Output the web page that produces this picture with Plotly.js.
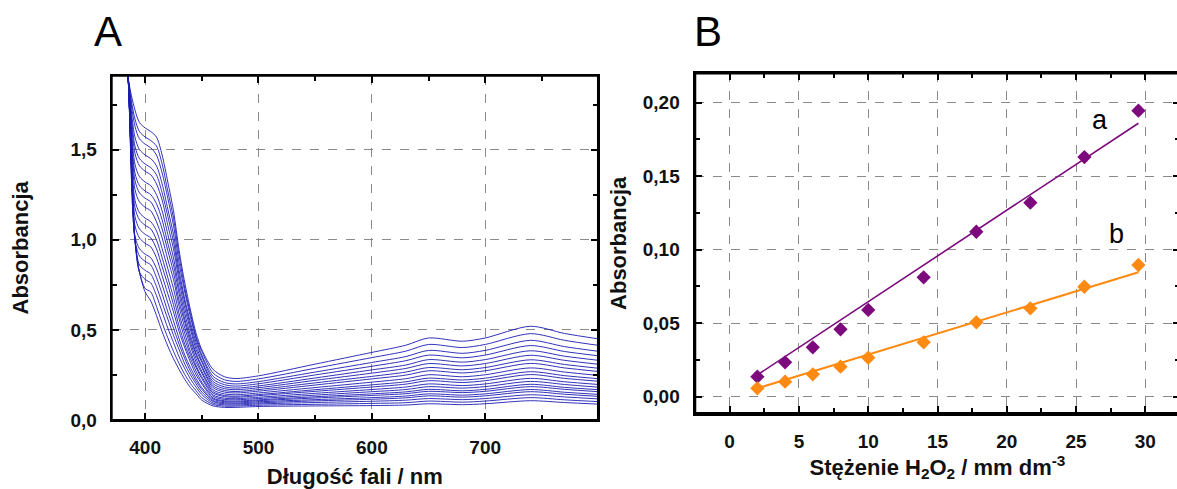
<!DOCTYPE html>
<html>
<head>
<meta charset="utf-8">
<script src="https://cdn.plot.ly/plotly-3.0.1.min.js"></script>
<style>
  html, body { margin: 0; padding: 0; background: #ffffff; overflow: hidden; }
  #chart { width: 1182px; height: 489px; }
</style>
</head>
<body>
<div id="chart"></div>
<script>
// ---------- Panel A: absorption spectra ----------
const wavelength = [378, 385, 391, 395, 400, 405, 410, 415, 420, 425, 430, 435, 440, 445, 450, 460, 470, 480, 500, 550, 600, 630, 650, 680, 700, 740, 770, 800];

const spectrum01 = [2.6, 1.9, 1.72, 1.65, 1.62, 1.60, 1.57, 1.47, 1.32, 1.16, 0.94, 0.76, 0.61, 0.48, 0.39, 0.28, 0.24, 0.23, 0.245, 0.31, 0.375, 0.415, 0.455, 0.437, 0.455, 0.52, 0.48, 0.45];
const spectrum02 = [2.6, 1.9, 1.67, 1.60, 1.57, 1.55, 1.52, 1.42, 1.27, 1.12, 0.91, 0.73, 0.59, 0.46, 0.38, 0.26, 0.223, 0.214, 0.228, 0.287, 0.346, 0.382, 0.419, 0.402, 0.419, 0.479, 0.442, 0.414];
const spectrum03 = [2.6, 1.9, 1.63, 1.56, 1.53, 1.51, 1.47, 1.37, 1.23, 1.08, 0.87, 0.71, 0.57, 0.45, 0.36, 0.242, 0.208, 0.200, 0.213, 0.266, 0.319, 0.352, 0.386, 0.370, 0.386, 0.442, 0.407, 0.381];
const spectrum04 = [2.6, 1.9, 1.57, 1.50, 1.47, 1.45, 1.41, 1.31, 1.17, 1.03, 0.83, 0.67, 0.54, 0.43, 0.35, 0.227, 0.196, 0.188, 0.201, 0.250, 0.298, 0.329, 0.360, 0.345, 0.360, 0.413, 0.380, 0.356];
const spectrum05 = [2.6, 1.9, 1.52, 1.45, 1.42, 1.40, 1.36, 1.26, 1.13, 0.99, 0.80, 0.65, 0.52, 0.41, 0.33, 0.213, 0.184, 0.177, 0.189, 0.233, 0.278, 0.305, 0.335, 0.321, 0.335, 0.384, 0.354, 0.331];
const spectrum06 = [2.6, 1.9, 1.48, 1.41, 1.38, 1.36, 1.31, 1.22, 1.08, 0.95, 0.77, 0.62, 0.50, 0.39, 0.32, 0.201, 0.174, 0.168, 0.179, 0.220, 0.260, 0.286, 0.313, 0.300, 0.313, 0.359, 0.331, 0.309];
const spectrum07 = [2.6, 1.9, 1.42, 1.35, 1.32, 1.30, 1.25, 1.16, 1.03, 0.90, 0.73, 0.59, 0.47, 0.37, 0.30, 0.189, 0.164, 0.158, 0.169, 0.206, 0.242, 0.266, 0.291, 0.279, 0.291, 0.334, 0.308, 0.287];
const spectrum08 = [2.6, 1.9, 1.37, 1.30, 1.27, 1.25, 1.20, 1.11, 0.98, 0.86, 0.70, 0.56, 0.45, 0.36, 0.29, 0.179, 0.155, 0.150, 0.160, 0.194, 0.228, 0.249, 0.273, 0.261, 0.273, 0.314, 0.289, 0.269];
const spectrum09 = [2.6, 1.9, 1.33, 1.26, 1.23, 1.21, 1.15, 1.06, 0.94, 0.82, 0.66, 0.54, 0.43, 0.34, 0.27, 0.167, 0.145, 0.140, 0.150, 0.180, 0.210, 0.229, 0.251, 0.240, 0.251, 0.289, 0.266, 0.247];
const spectrum10 = [2.6, 1.9, 1.28, 1.21, 1.18, 1.16, 1.10, 1.01, 0.89, 0.78, 0.63, 0.51, 0.41, 0.32, 0.26, 0.157, 0.136, 0.132, 0.141, 0.168, 0.195, 0.212, 0.232, 0.222, 0.232, 0.268, 0.246, 0.229];
const spectrum11 = [2.6, 1.9, 1.22, 1.15, 1.12, 1.10, 1.05, 0.95, 0.84, 0.73, 0.59, 0.48, 0.38, 0.30, 0.24, 0.149, 0.130, 0.126, 0.135, 0.159, 0.183, 0.199, 0.218, 0.208, 0.218, 0.252, 0.231, 0.215];
const spectrum12 = [2.6, 1.9, 1.18, 1.11, 1.08, 1.06, 1.00, 0.90, 0.79, 0.68, 0.56, 0.45, 0.36, 0.29, 0.23, 0.139, 0.121, 0.118, 0.126, 0.148, 0.169, 0.183, 0.200, 0.191, 0.200, 0.231, 0.212, 0.197];
const spectrum13 = [2.6, 1.9, 1.13, 1.06, 1.03, 1.01, 0.95, 0.85, 0.75, 0.64, 0.52, 0.42, 0.34, 0.27, 0.21, 0.131, 0.114, 0.112, 0.119, 0.138, 0.157, 0.169, 0.185, 0.177, 0.185, 0.214, 0.197, 0.182];
const spectrum14 = [2.6, 1.9, 1.08, 1.01, 0.98, 0.96, 0.90, 0.80, 0.70, 0.60, 0.49, 0.40, 0.32, 0.25, 0.20, 0.122, 0.107, 0.105, 0.112, 0.129, 0.145, 0.156, 0.170, 0.162, 0.170, 0.198, 0.181, 0.168];
const spectrum15 = [2.6, 1.9, 1.02, 0.95, 0.92, 0.90, 0.84, 0.75, 0.65, 0.55, 0.45, 0.36, 0.29, 0.23, 0.18, 0.116, 0.102, 0.100, 0.107, 0.122, 0.136, 0.146, 0.159, 0.152, 0.159, 0.185, 0.170, 0.157];
const spectrum16 = [2.6, 1.9, 1.00, 0.91, 0.88, 0.86, 0.79, 0.70, 0.60, 0.51, 0.42, 0.34, 0.27, 0.215, 0.17, 0.108, 0.096, 0.094, 0.101, 0.113, 0.124, 0.133, 0.145, 0.138, 0.145, 0.169, 0.154, 0.142];
const spectrum17 = [2.6, 1.9, 1.00, 0.86, 0.83, 0.81, 0.74, 0.65, 0.56, 0.47, 0.39, 0.31, 0.25, 0.20, 0.155, 0.102, 0.090, 0.089, 0.095, 0.106, 0.115, 0.123, 0.134, 0.127, 0.134, 0.157, 0.143, 0.131];
const spectrum18 = [2.6, 1.9, 1.00, 0.82, 0.78, 0.76, 0.69, 0.60, 0.51, 0.43, 0.35, 0.284, 0.227, 0.182, 0.141, 0.094, 0.084, 0.083, 0.089, 0.097, 0.104, 0.110, 0.119, 0.113, 0.119, 0.140, 0.128, 0.117];
const spectrum19 = [2.6, 1.9, 1.00, 0.82, 0.73, 0.71, 0.63, 0.54, 0.456, 0.381, 0.313, 0.252, 0.202, 0.162, 0.124, 0.086, 0.077, 0.077, 0.082, 0.087, 0.092, 0.096, 0.105, 0.099, 0.105, 0.124, 0.112, 0.102];
const spectrum20 = [2.6, 1.9, 1.00, 0.82, 0.71, 0.66, 0.58, 0.49, 0.41, 0.34, 0.28, 0.225, 0.18, 0.145, 0.11, 0.078, 0.07, 0.07, 0.075, 0.078, 0.08, 0.083, 0.09, 0.085, 0.09, 0.107, 0.097, 0.088];

const spectra = [spectrum01, spectrum02, spectrum03, spectrum04, spectrum05, spectrum06, spectrum07, spectrum08, spectrum09, spectrum10,
                 spectrum11, spectrum12, spectrum13, spectrum14, spectrum15, spectrum16, spectrum17, spectrum18, spectrum19, spectrum20];

// ---------- Panel B: calibration ----------
const concentration = [2, 4, 6, 8, 10, 14, 17.8, 21.7, 25.6, 29.5];
const absorbanceA = [0.0136, 0.0234, 0.0336, 0.0458, 0.059, 0.0812, 0.1122, 0.132, 0.163, 0.1946];
const absorbanceB = [0.0057, 0.0102, 0.0152, 0.0204, 0.0265, 0.037, 0.0506, 0.0601, 0.0748, 0.0896];
const fitConcentration = [2, 29.5];
const fitA = [0.0148, 0.186];
const fitB = [0.0057, 0.0846];

// ---------- styling ----------
const FONT = 'Liberation Sans, Arial, Helvetica, sans-serif';
const tickFont = {family: FONT, size: 19, color: '#111111', weight: 'bold'};
const titleFont = {family: FONT, size: 22, color: '#111111', weight: 'bold'};
const purple = '#7d0a7d';
const orange = '#ff8a12';

const traces = [];
spectra.forEach(function (s) {
  traces.push({
    type: 'scatter', mode: 'lines', x: wavelength, y: s,
    xaxis: 'x', yaxis: 'y',
    line: {color: 'rgb(28,28,180)', width: 1, shape: 'spline', smoothing: 0.8},
    opacity: 0.9, hoverinfo: 'skip', showlegend: false
  });
});

traces.push({type: 'scatter', mode: 'lines', x: fitConcentration, y: fitA, xaxis: 'x2', yaxis: 'y2',
  line: {color: purple, width: 1.6}, showlegend: false, hoverinfo: 'skip'});
traces.push({type: 'scatter', mode: 'lines', x: fitConcentration, y: fitB, xaxis: 'x2', yaxis: 'y2',
  line: {color: orange, width: 2}, showlegend: false, hoverinfo: 'skip'});
traces.push({type: 'scatter', mode: 'markers', x: concentration, y: absorbanceA, xaxis: 'x2', yaxis: 'y2',
  marker: {symbol: 'diamond', size: 11, color: purple},
  error_y: {type: 'constant', value: 0.0025, color: purple, thickness: 1, width: 3},
  showlegend: false});
traces.push({type: 'scatter', mode: 'markers', x: concentration, y: absorbanceB, xaxis: 'x2', yaxis: 'y2',
  marker: {symbol: 'diamond', size: 11, color: orange},
  error_y: {type: 'constant', value: 0.0015, color: orange, thickness: 1, width: 3},
  showlegend: false});

function minorTicks(d) {
  return {dtick: d, ticks: 'inside', ticklen: 5, tickwidth: 2, tickcolor: 'black', showgrid: false};
}
function axisStyle(extra) {
  const base = {
    showline: true, linecolor: 'black', linewidth: 2, mirror: 'allticks',
    ticks: 'inside', ticklen: 7, tickwidth: 2, tickcolor: 'black', ticklabelstandoff: 9,
    tickfont: tickFont,
    showgrid: true, gridcolor: '#8a8a8a', griddash: 'dash', gridwidth: 1, zeroline: false
  };
  return Object.assign(base, extra);
}

const layout = {
  width: 1182, height: 489,
  margin: {l: 0, r: 0, t: 0, b: 0},
  paper_bgcolor: 'white', plot_bgcolor: 'white',
  separators: ', ',
  showlegend: false,
  xaxis: axisStyle({domain: [0.0945, 0.5059], anchor: 'y', range: [370.5, 799.5], tick0: 0, dtick: 100,
    minor: minorTicks(50),
    title: {text: 'Długość fali / nm', font: titleFont, standoff: 25}}),
  yaxis: axisStyle({domain: [0.1411, 0.8452], anchor: 'x', range: [0, 1.91], tick0: 0, dtick: 0.5, tickformat: '.1f',
    minor: minorTicks(0.25),
    title: {text: 'Absorbancja', font: titleFont, standoff: 36}}),
  xaxis2: axisStyle({domain: [0.588, 0.9983], anchor: 'y2', range: [-2.5, 32.5], tick0: 0, dtick: 5, linewidth: 2.5,
    minor: minorTicks(2.5),
    title: {text: 'Stężenie H<sub>2</sub>O<sub>2</sub> / mm dm<sup>-3</sup>', font: titleFont, standoff: 4}}),
  yaxis2: axisStyle({domain: [0.1548, 0.8501], anchor: 'x2', range: [-0.0113, 0.22], tick0: 0, dtick: 0.05, tickformat: '.2f', linewidth: 2.5,
    minor: minorTicks(0.025),
    title: {text: 'Absorbancja', font: titleFont, standoff: 10}}),

  shapes: [
    {type: 'rect', xref: 'x domain', yref: 'y domain', x0: 0, x1: 1, y0: 0, y1: 1,
     line: {color: 'black', width: 2}, fillcolor: 'rgba(0,0,0,0)', layer: 'above'},
    {type: 'rect', xref: 'x2 domain', yref: 'y2 domain', x0: 0, x1: 1, y0: 0, y1: 1,
     line: {color: 'black', width: 2.5}, fillcolor: 'rgba(0,0,0,0)', layer: 'above'}
  ],

  annotations: [
    {text: 'A', xref: 'paper', yref: 'paper', x: 0.0914, y: 0.9366, xanchor: 'center', yanchor: 'middle',
     showarrow: false, font: {family: FONT, size: 42, color: 'black'}},
    {text: 'B', xref: 'paper', yref: 'paper', x: 0.5990, y: 0.9366, xanchor: 'center', yanchor: 'middle',
     showarrow: false, font: {family: FONT, size: 42, color: 'black'}},
    {text: 'a', xref: 'x2', yref: 'y2', x: 26.7, y: 0.188, xanchor: 'center', yanchor: 'middle',
     showarrow: false, font: {family: FONT, size: 27, color: 'black'}},
    {text: 'b', xref: 'x2', yref: 'y2', x: 27.9, y: 0.111, xanchor: 'center', yanchor: 'middle',
     showarrow: false, font: {family: FONT, size: 27, color: 'black'}}
  ]
};

Plotly.newPlot('chart', traces, layout, {displayModeBar: false, staticPlot: true});
</script>
</body>
</html>
